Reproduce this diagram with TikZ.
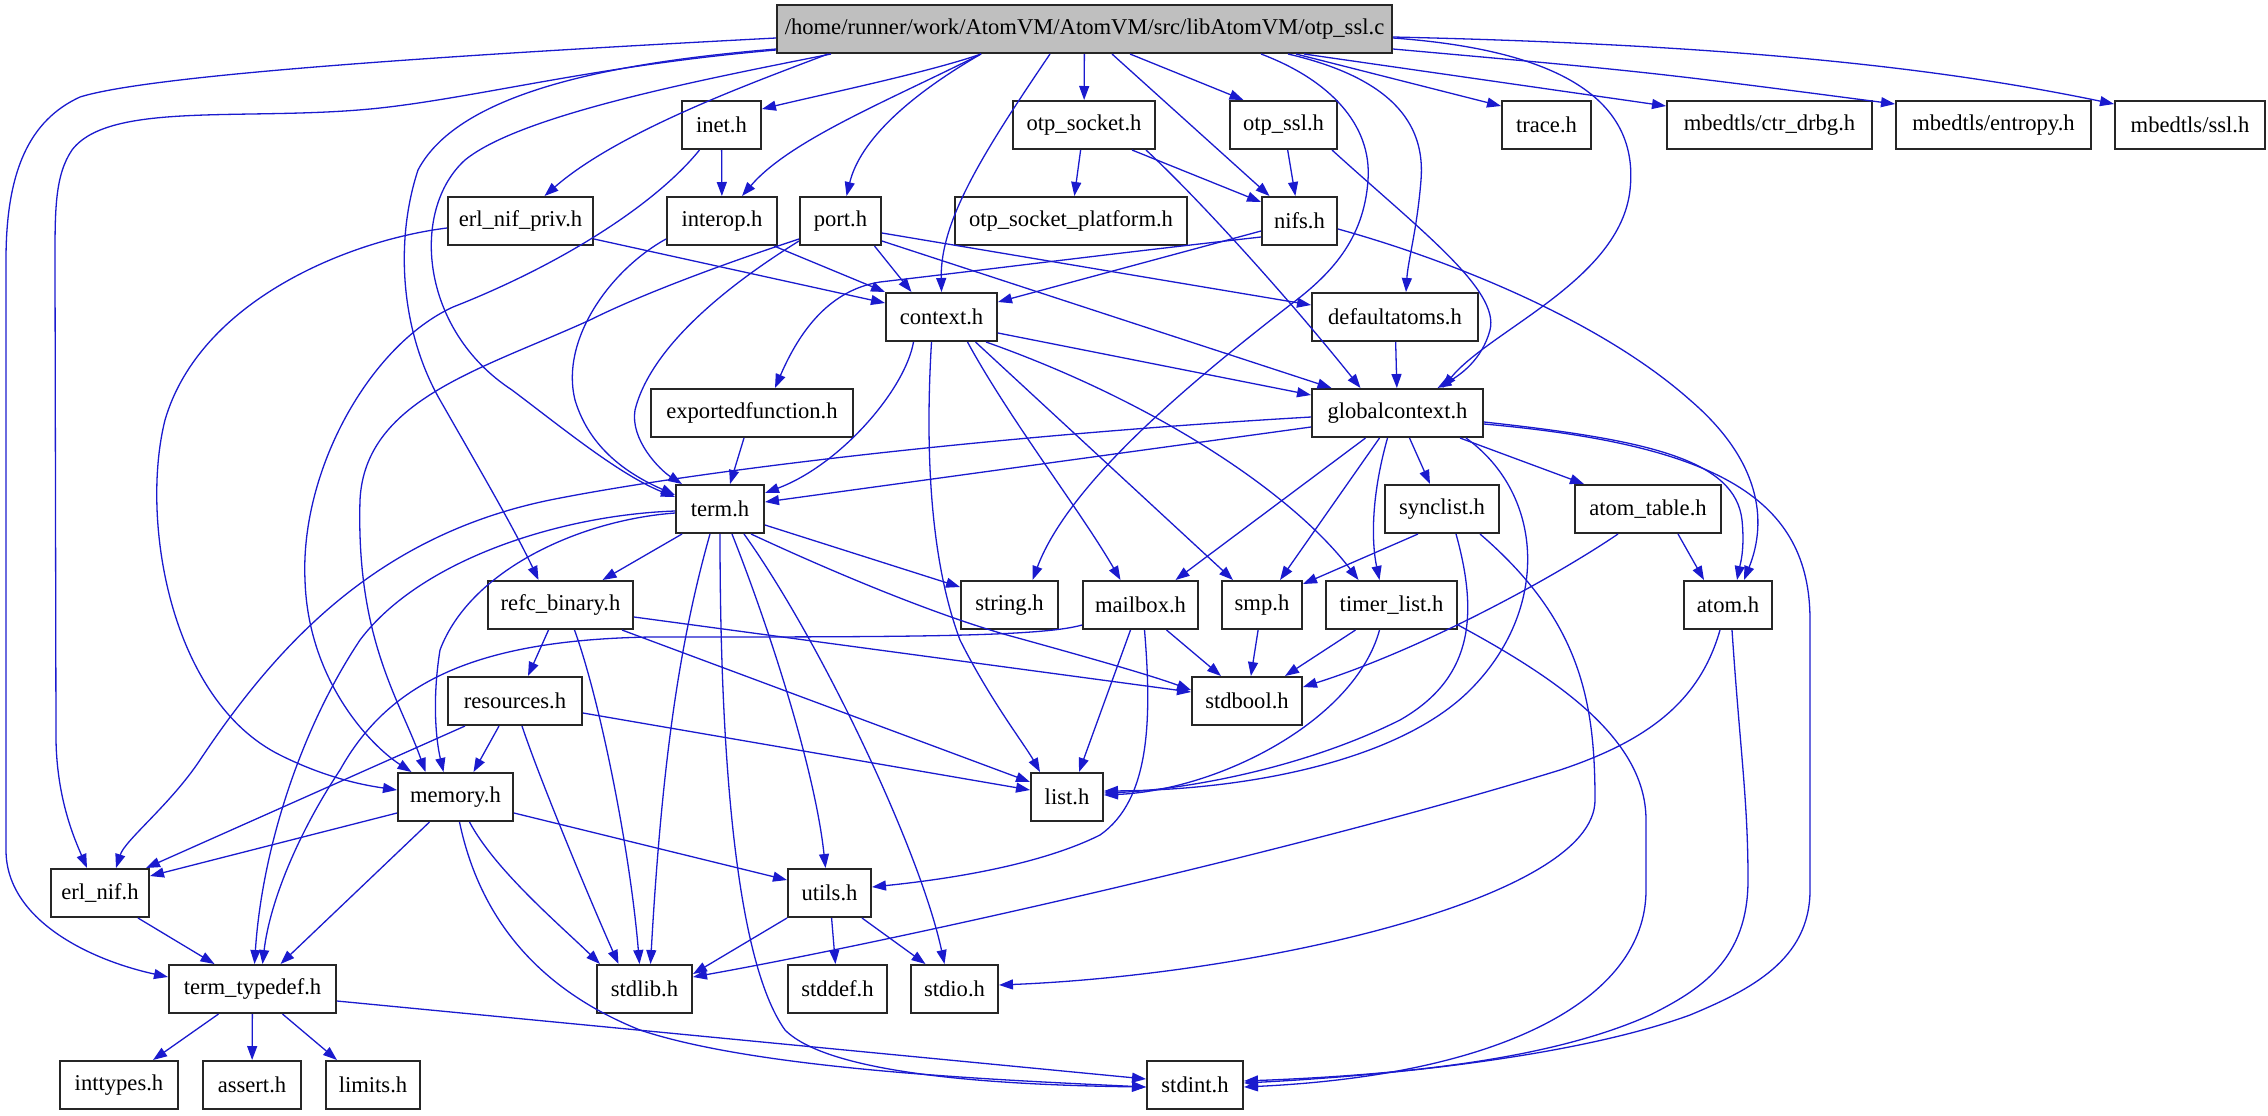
\documentclass[tikz,border=0pt]{standalone}
\usepackage{fontspec}
\setmainfont{Liberation Serif}
\usetikzlibrary{arrows.meta}
\definecolor{edgeblue}{RGB}{26,26,206}
\definecolor{rootgray}{RGB}{191,191,191}
\tikzset{
  hdr/.style={draw=black!85, line width=1pt, fill=white, minimum height=24pt,
    inner sep=0pt, font=\fontsize{11.3}{13}\selectfont},
  srcfile/.style={hdr, fill=rootgray},
  inc/.style={draw=edgeblue, line width=0.65pt, -{Triangle[length=7pt,width=5pt]}},
}
\begin{document}
\begin{tikzpicture}[x=0.5pt, y=0.5pt]
	\useasboundingbox (0,0) rectangle (2268,-1115);

	% the source file
	\node[srcfile, minimum width=307.5pt] (root) at (1084.5,-29) {/home/runner/work/AtomVM/AtomVM/src/libAtomVM/otp\_ssl.c};

	% headers, one rank after the other
	\node[hdr, minimum width=39.5pt] (inet) at (721.5,-125) {inet.h};
	\node[hdr, minimum width=71pt] (otpsocket) at (1084,-125) {otp\_socket.h};
	\node[hdr, minimum width=53.5pt] (otpssl) at (1283.5,-125) {otp\_ssl.h};
	\node[hdr, minimum width=44.5pt] (trace) at (1546.5,-125) {trace.h};
	\node[hdr, minimum width=102.5pt] (ctrdrbg) at (1769.5,-125) {mbedtls/ctr\_drbg.h};
	\node[hdr, minimum width=97.5pt] (entropy) at (1993.5,-125) {mbedtls/entropy.h};
	\node[hdr, minimum width=75pt] (ssl) at (2190,-125) {mbedtls/ssl.h};

	\node[hdr, minimum width=72.5pt] (erlnifpriv) at (520.5,-221) {erl\_nif\_priv.h};
	\node[hdr, minimum width=55pt] (interop) at (722,-221) {interop.h};
	\node[hdr, minimum width=40.5pt] (port) at (840.5,-221) {port.h};
	\node[hdr, minimum width=116pt] (otpsocketplatform) at (1071,-221) {otp\_socket\_platform.h};
	\node[hdr, minimum width=37.5pt] (nifs) at (1299.5,-221) {nifs.h};

	\node[hdr, minimum width=55.5pt] (context) at (941.5,-317) {context.h};
	\node[hdr, minimum width=83pt] (defaultatoms) at (1395,-317) {defaultatoms.h};

	\node[hdr, minimum width=101pt] (exportedfunction) at (752,-413) {exportedfunction.h};
	\node[hdr, minimum width=85.5pt] (globalcontext) at (1397.5,-413) {globalcontext.h};

	\node[hdr, minimum width=44pt] (term) at (720,-509) {term.h};
	\node[hdr, minimum width=57pt] (synclist) at (1442,-509) {synclist.h};
	\node[hdr, minimum width=73pt] (atomtable) at (1648,-509) {atom\_table.h};

	\node[hdr, minimum width=72.5pt] (refcbinary) at (560.5,-605) {refc\_binary.h};
	\node[hdr, minimum width=48.5pt] (string) at (1009.5,-605) {string.h};
	\node[hdr, minimum width=57.5pt] (mailbox) at (1140.5,-605) {mailbox.h};
	\node[hdr, minimum width=40pt] (smp) at (1262,-605) {smp.h};
	\node[hdr, minimum width=65.5pt] (timerlist) at (1391.5,-605) {timer\_list.h};
	\node[hdr, minimum width=44pt] (atom) at (1728,-605) {atom.h};

	\node[hdr, minimum width=67pt] (resources) at (515,-701) {resources.h};
	\node[hdr, minimum width=55pt] (stdbool) at (1247,-701) {stdbool.h};

	\node[hdr, minimum width=57.5pt] (memory) at (455.5,-797) {memory.h};
	\node[hdr, minimum width=36pt] (list) at (1067,-797) {list.h};

	\node[hdr, minimum width=49pt] (erlnif) at (100,-893) {erl\_nif.h};
	\node[hdr, minimum width=41.5pt] (utils) at (829.5,-893) {utils.h};

	\node[hdr, minimum width=83.5pt] (termtypedef) at (252.5,-989) {term\_typedef.h};
	\node[hdr, minimum width=47.5pt] (stdlib) at (644.5,-989) {stdlib.h};
	\node[hdr, minimum width=49.5pt] (stddef) at (837.5,-989) {stddef.h};
	\node[hdr, minimum width=43.5pt] (stdio) at (954.5,-989) {stdio.h};

	\node[hdr, minimum width=59pt] (inttypes) at (119,-1085) {inttypes.h};
	\node[hdr, minimum width=49pt] (assert) at (252,-1085) {assert.h};
	\node[hdr, minimum width=47pt] (limits) at (373,-1085) {limits.h};
	\node[hdr, minimum width=48pt] (stdint) at (1195,-1085) {stdint.h};

	% includes of the source file
	\draw[inc] ([yshift=-4.5pt]root.west) .. controls (450,-55) and (150,-75) .. (80,-97) .. controls (30,-120) and (6,-170) .. (6,-260) -- (6,-850) .. controls (6,-920) and (90,-960) .. ([yshift=6pt]termtypedef.west);
	\draw[inc] ([yshift=-10.5pt]root.west) .. controls (600,-65) and (480,-97) .. (380,-108) .. controls (250,-122) and (110,-100) .. (72,-150) .. controls (55,-175) and (55,-210) .. (55,-260) -- (56,-740) .. controls (57,-800) and (75,-840) .. ([xshift=-6.5pt]erlnif.north);
	\draw[inc] ([yshift=-10pt]root.west) .. controls (620,-62) and (460,-90) .. (418,-170) .. controls (395,-240) and (400,-330) .. (440,-400) .. controls (480,-470) and (515,-530) .. ([xshift=-11pt]refcbinary.north);
	\draw[inc] ([xshift=27.5pt]root.south west) .. controls (700,-80) and (520,-115) .. (465,-160) .. controls (410,-210) and (420,-330) .. (512,-390) .. controls (565,-430) and (620,-475) .. ([yshift=6pt]term.west);
	\draw[inc] ([xshift=26pt]root.south west) .. controls (760,-80) and (620,-130) .. ([xshift=12pt]erlnifpriv.north);
	\draw[inc] ([xshift=102.5pt]root.south west) .. controls (930,-72) and (820,-95) .. ([yshift=-4.5pt]inet.north east);
	\draw[inc] ([xshift=102.5pt]root.south west) .. controls (890,-100) and (790,-140) .. ([xshift=10pt]interop.north);
	\draw[inc] ([xshift=102.5pt]root.south west) .. controls (910,-95) and (860,-140) .. ([xshift=3pt]port.north);
	\draw[inc] ([xshift=137pt]root.south west) .. controls (985,-150) and (940,-220) .. (context.north);
	\draw[inc] (root) -- (otpsocket);
	\draw[inc] ([xshift=168pt]root.south west) -- ([xshift=-15pt]nifs.north);
	\draw[inc] ([xshift=177pt]root.south west) -- ([xshift=-20pt]otpssl.north);
	\draw[inc] ([xshift=242.5pt]root.south west) .. controls (1330,-80) and (1372,-125) .. (1368,-180) .. controls (1364,-240) and (1330,-275) .. (1290,-305) .. controls (1200,-375) and (1070,-480) .. ([xshift=11.5pt]string.north);
	\draw[inc] ([xshift=256pt]root.south west) .. controls (1400,-80) and (1425,-130) .. (1421,-180) .. controls (1417,-230) and (1408,-260) .. ([xshift=5.5pt]defaultatoms.north);
	\draw[inc] ([yshift=-4.5pt]root.east) .. controls (1560,-50) and (1640,-100) .. (1630,-190) .. controls (1620,-280) and (1490,-330) .. ([xshift=22.5pt]globalcontext.north);
	\draw[inc] ([xshift=260pt]root.south west) -- ([yshift=-3pt]trace.north west);
	\draw[inc] ([xshift=264pt]root.south west) -- ([yshift=-3pt]ctrdrbg.north west);
	\draw[inc] ([yshift=-10pt]root.east) .. controls (1650,-72) .. ([yshift=-2pt]entropy.north west);
	\draw[inc] ([yshift=-4pt]root.east) .. controls (1750,-45) and (1950,-70) .. ([yshift=-2pt]ssl.north west);

	% first rank
	\draw[inc] (inet) -- (interop);
	\draw[inc] ([xshift=-11pt]inet.south) .. controls (655,-205) and (560,-265) .. (453,-307) .. controls (370,-345) and (300,-470) .. (305,-580) .. controls (308,-680) and (370,-745) .. ([xshift=-22pt]memory.north);
	\draw[inc] (otpsocket) -- (otpsocketplatform);
	\draw[inc] ([xshift=-12pt]otpsocket.south east) -- ([yshift=-3pt]nifs.north west);
	\draw[inc] ([xshift=-5pt]otpsocket.south east) .. controls (1200,-200) and (1290,-300) .. ([xshift=-18.5pt]globalcontext.north);
	\draw[inc] (otpssl) -- (nifs);
	\draw[inc] ([xshift=-3pt]otpssl.south east) .. controls (1420,-230) and (1500,-290) .. (1490,-330) .. controls (1482,-360) and (1460,-375) .. ([xshift=20pt]globalcontext.north);

	% second rank
	\draw[inc] ([yshift=-9pt]erlnifpriv.east) -- ([yshift=7pt]context.west);
	\draw[inc] ([yshift=-3.5pt]erlnifpriv.west) .. controls (350,-240) and (200,-300) .. (165,-420) .. controls (140,-520) and (170,-700) .. (280,-755) .. controls (330,-780) and (370,-786) .. ([yshift=3.5pt]memory.west);
	\draw[inc] ([xshift=-2pt]interop.south east) -- (context.north west);
	\draw[inc] ([yshift=-9pt]interop.west) .. controls (610,-270) and (560,-340) .. (575,-400) .. controls (590,-450) and (630,-475) .. ([yshift=7pt]term.west);
	\draw[inc] ([xshift=17pt]port.south) -- ([xshift=-15pt]context.north);
	\draw[inc] ([yshift=-10pt]port.east) -- ([xshift=-33pt]globalcontext.north);
	\draw[inc] ([yshift=-6pt]port.east) -- ([yshift=6pt]defaultatoms.west);
	\draw[inc] ([yshift=-9pt]port.west) .. controls (720,-265) and (640,-295) .. (590,-320) .. controls (480,-370) and (365,-400) .. (360,-500) .. controls (356,-640) and (400,-700) .. ([xshift=-15pt]memory.north);
	\draw[inc] ([yshift=-10pt]port.west) .. controls (720,-290) and (650,-350) .. (635,-410) .. controls (630,-440) and (660,-470) .. ([xshift=-19pt]term.north);
	\draw[inc] ([yshift=-5pt]nifs.west) -- ([yshift=7.5pt]context.east);
	\draw[inc] ([yshift=-8pt]nifs.west) .. controls (1100,-255) and (1000,-268) .. (880,-282) .. controls (830,-290) and (800,-330) .. ([xshift=11.5pt]exportedfunction.north);
	\draw[inc] ([yshift=-4pt]nifs.east) .. controls (1450,-260) and (1600,-320) .. (1690,-400) .. controls (1760,-460) and (1768,-520) .. ([xshift=8pt]atom.north);

	% context.h and its neighbours
	\draw[inc] ([yshift=-8pt]context.east) -- ([yshift=9pt]globalcontext.west);
	\draw[inc] ([xshift=-14pt]context.south) .. controls (905,-390) and (840,-465) .. ([yshift=8pt]term.east);
	\draw[inc] ([xshift=-5pt]context.south) .. controls (925,-450) and (930,-560) .. (960,-640) .. controls (990,-700) and (1025,-745) .. ([xshift=-13.5pt]list.north);
	\draw[inc] ([xshift=13pt]context.south) .. controls (1010,-420) and (1080,-510) .. ([xshift=-10pt]mailbox.north);
	\draw[inc] ([xshift=17pt]context.south) -- ([xshift=-14.5pt]smp.north);
	\draw[inc] ([xshift=-6pt]context.south east) .. controls (1150,-400) and (1290,-490) .. ([xshift=-16.5pt]timerlist.north);
	\draw[inc] (defaultatoms) -- (globalcontext);
	\draw[inc] ([xshift=-4pt]exportedfunction.south) -- ([xshift=5pt]term.north);

	% globalcontext.h
	\draw[inc] ([yshift=-7pt]globalcontext.west) -- ([yshift=3.5pt]term.east);
	\draw[inc] ([yshift=-2pt]globalcontext.west) .. controls (1000,-435) and (700,-470) .. (550,-500) .. controls (380,-535) and (280,-640) .. (200,-760) .. controls (170,-805) and (125,-840) .. ([xshift=8pt]erlnif.north);
	\draw[inc] ([xshift=-16pt]globalcontext.south) -- ([xshift=17.5pt]mailbox.north);
	\draw[inc] ([xshift=-9pt]globalcontext.south) -- ([xshift=9pt]smp.north);
	\draw[inc] ([xshift=-5pt]globalcontext.south) .. controls (1370,-500) and (1372,-545) .. ([xshift=-6pt]timerlist.north);
	\draw[inc] ([xshift=6pt]globalcontext.south) -- ([xshift=-6pt]synclist.north);
	\draw[inc] ([xshift=-12pt]globalcontext.south east) -- ([xshift=-32pt]atomtable.north);
	\draw[inc] ([xshift=-9pt]globalcontext.south east) .. controls (1545,-495) and (1550,-610) .. (1470,-690) .. controls (1400,-760) and (1250,-790) .. ([yshift=3pt]list.east);
	\draw[inc] ([yshift=-4.5pt]globalcontext.east) .. controls (1650,-440) and (1735,-460) .. (1742,-520) .. controls (1745,-550) and (1740,-565) .. ([xshift=4.5pt]atom.north);
	\draw[inc] ([yshift=-5.5pt]globalcontext.east) .. controls (1720,-445) and (1810,-500) .. (1810,-620) -- (1810,-890) .. controls (1810,-960) and (1750,-990) .. (1690,-1015) .. controls (1580,-1055) and (1400,-1075) .. ([yshift=1pt]stdint.east);

	% term.h
	\draw[inc] ([xshift=-19pt]term.south) -- ([xshift=21pt]refcbinary.north);
	\draw[inc] ([yshift=-8pt]term.east) -- ([yshift=9pt]string.west);
	\draw[inc] ([xshift=-7pt]term.south east) .. controls (850,-580) and (950,-620) .. (1018,-638) .. controls (1090,-658) and (1150,-675) .. ([yshift=5.5pt]stdbool.west);
	\draw[inc] ([yshift=-2pt]term.west) .. controls (580,-520) and (470,-570) .. (440,-650) .. controls (432,-700) and (436,-740) .. ([xshift=-6pt]memory.north);
	\draw[inc] ([yshift=-1pt]term.west) .. controls (560,-515) and (420,-560) .. (360,-640) .. controls (300,-730) and (262,-850) .. ([xshift=1pt]termtypedef.north);
	\draw[inc] ([xshift=-5pt]term.south) .. controls (680,-640) and (662,-760) .. ([xshift=3pt]stdlib.north);
	\draw[inc] (term.south) .. controls (720,-750) and (735,-960) .. (785,-1030) .. controls (830,-1075) and (1000,-1085) .. ([yshift=-1pt]stdint.west);
	\draw[inc] ([xshift=6pt]term.south) .. controls (770,-630) and (815,-770) .. ([xshift=-2pt]utils.north);
	\draw[inc] ([xshift=12pt]term.south) .. controls (820,-640) and (920,-850) .. ([xshift=-5pt]stdio.north);

	% refc_binary.h, resources.h
	\draw[inc] ([xshift=-6pt]refcbinary.south) -- ([xshift=6.5pt]resources.north);
	\draw[inc] ([xshift=7pt]refcbinary.south) .. controls (600,-700) and (630,-850) .. ([xshift=-2.5pt]stdlib.north);
	\draw[inc] ([xshift=-6pt]refcbinary.south east) -- ([yshift=7.5pt]list.west);
	\draw[inc] ([yshift=-6pt]refcbinary.east) -- ([yshift=4.5pt]stdbool.west);
	\draw[inc] ([xshift=-8pt]resources.south) -- ([xshift=9pt]memory.north);
	\draw[inc] ([xshift=3.5pt]resources.south) .. controls (540,-780) and (590,-900) .. ([xshift=-13pt]stdlib.north);
	\draw[inc] ([xshift=-25pt]resources.south) -- ([xshift=-2pt]erlnif.north east);
	\draw[inc] ([yshift=-6pt]resources.east) -- ([yshift=3.5pt]list.west);

	% mailbox.h, smp.h, timer_list.h
	\draw[inc] ([xshift=-5pt]mailbox.south) -- ([xshift=6pt]list.north);
	\draw[inc] ([xshift=2pt]mailbox.south) .. controls (1152,-720) and (1150,-800) .. (1100,-835) .. controls (1030,-870) and (920,-882) .. ([yshift=3pt]utils.east);
	\draw[inc] ([xshift=13pt]mailbox.south) -- ([xshift=-13pt]stdbool.north);
	\draw[inc] ([yshift=-10pt]mailbox.west) .. controls (1040,-637) and (900,-637) .. (650,-637) .. controls (480,-640) and (390,-680) .. (340,-770) .. controls (300,-830) and (270,-900) .. ([xshift=5pt]termtypedef.north);
	\draw[inc] (smp) -- (stdbool);
	\draw[inc] ([xshift=-18pt]timerlist.south) -- ([xshift=19pt]stdbool.north);
	\draw[inc] ([xshift=-6pt]timerlist.south) .. controls (1355,-720) and (1220,-790) .. ([yshift=1pt]list.east);
	\draw[inc] ([yshift=-10pt]timerlist.east) .. controls (1560,-680) and (1646,-740) .. (1646,-820) -- (1646,-890) .. controls (1646,-1000) and (1500,-1075) .. ([yshift=-1pt]stdint.east);

	% atom_table.h, atom.h, synclist.h
	\draw[inc] ([xshift=15pt]atomtable.south) -- ([xshift=-12pt]atom.north);
	\draw[inc] ([xshift=-15pt]atomtable.south) .. controls (1550,-580) and (1420,-650) .. ([yshift=7pt]stdbool.east);
	\draw[inc] ([xshift=-4pt]atom.south) .. controls (1700,-700) and (1650,-740) .. (1560,-770) .. controls (1300,-850) and (900,-940) .. ([yshift=6pt]stdlib.east);
	\draw[inc] ([xshift=2pt]atom.south) .. controls (1740,-750) and (1748,-800) .. (1748,-880) .. controls (1748,-960) and (1700,-990) .. (1650,-1015) .. controls (1550,-1060) and (1400,-1075) .. ([yshift=2pt]stdint.east);
	\draw[inc] ([xshift=-12pt]synclist.south) -- ([yshift=-2pt]smp.north east);
	\draw[inc] ([xshift=7pt]synclist.south) .. controls (1480,-620) and (1470,-680) .. (1400,-720) .. controls (1300,-770) and (1180,-790) .. ([yshift=2pt]list.east);
	\draw[inc] ([xshift=-10pt]synclist.south east) .. controls (1580,-620) and (1595,-700) .. (1595,-800) .. controls (1595,-900) and (1250,-975) .. ([yshift=2pt]stdio.east);

	% memory.h and below
	\draw[inc] ([yshift=-8pt]memory.west) -- ([yshift=-4pt]erlnif.north east);
	\draw[inc] ([xshift=-13pt]memory.south) -- ([xshift=14pt]termtypedef.north);
	\draw[inc] ([yshift=-8pt]memory.east) -- ([yshift=6.5pt]utils.west);
	\draw[inc] ([xshift=7pt]memory.south) .. controls (495,-870) and (560,-925) .. ([xshift=2pt]stdlib.north west);
	\draw[inc] ([xshift=2pt]memory.south) .. controls (480,-920) and (540,-990) .. (640,-1030) .. controls (760,-1070) and (1000,-1080) .. ([yshift=-1pt]stdint.west);
	\draw[inc] ([xshift=19pt]erlnif.south) -- ([xshift=-19pt]termtypedef.north);
	\draw[inc] (utils.south west) -- ([yshift=-5pt]stdlib.north east);
	\draw[inc] (utils) -- (stddef);
	\draw[inc] ([xshift=-5pt]utils.south east) -- ([xshift=-14.5pt]stdio.north);
	\draw[inc] ([xshift=-17pt]termtypedef.south) -- ([xshift=17pt]inttypes.north);
	\draw[inc] (termtypedef) -- (assert);
	\draw[inc] ([xshift=15pt]termtypedef.south) -- ([xshift=-18pt]limits.north);
	\draw[inc] ([yshift=-6pt]termtypedef.east) -- ([yshift=3pt]stdint.west);
\end{tikzpicture}
\end{document}
